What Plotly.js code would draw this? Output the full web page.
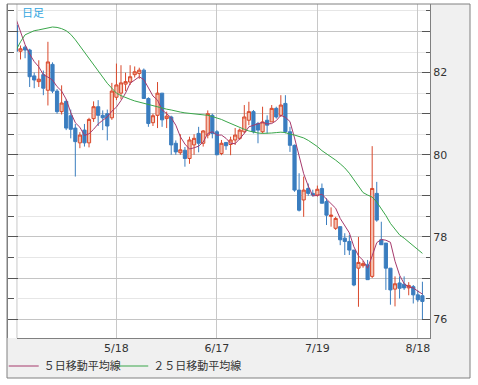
<!DOCTYPE html>
<html>
<head>
<meta charset="utf-8">
<script src="https://cdn.plot.ly/plotly-3.0.1.min.js"></script>
<style>html,body{margin:0;padding:0;background:#fff;}#chart{width:478px;height:385px;}</style>
</head>
<body>
<div id="chart"></div>
<script>
// Trading days (2011, weekdays)
var dates = ['4/18','4/19','4/20','4/21','4/22','4/25','4/26','4/27','4/28','4/29',
'5/2','5/3','5/4','5/5','5/6','5/9','5/10','5/11','5/12','5/13',
'5/16','5/17','5/18','5/19','5/20','5/23','5/24','5/25','5/26','5/27',
'5/30','5/31','6/1','6/2','6/3','6/6','6/7','6/8','6/9','6/10',
'6/13','6/14','6/15','6/16','6/17','6/20','6/21','6/22','6/23','6/24',
'6/27','6/28','6/29','6/30','7/1','7/4','7/5','7/6','7/7','7/8',
'7/11','7/12','7/13','7/14','7/15','7/18','7/19','7/20','7/21','7/22',
'7/25','7/26','7/27','7/28','7/29','8/1','8/2','8/3','8/4','8/5',
'8/8','8/9','8/10','8/11','8/12','8/15','8/16','8/17','8/18','8/19'];

var openP = [83.15,82.52,82.62,82.55,81.92,81.78,81.95,81.57,82.2,81.55,
81.05,81.3,80.95,80.65,80.29,80.6,80.29,80.88,81.17,80.96,
81.0,80.9,81.4,81.5,81.72,81.77,81.95,81.98,82.06,81.37,
80.78,80.96,81.5,80.88,80.92,80.28,80.05,80.11,79.91,80.24,
80.52,80.28,80.48,80.96,80.56,80.03,80.3,80.25,80.36,80.4,
80.56,80.84,81.05,80.76,80.56,80.84,80.8,81.13,80.96,81.25,
80.56,80.23,79.14,78.9,79.18,79.06,79.02,79.18,78.86,78.5,
78.21,78.25,77.97,77.89,77.68,77.24,77.3,77.32,77.04,79.06,
77.93,77.85,77.24,76.73,76.88,76.85,76.76,76.79,76.59,76.57];

var highP = [83.32,82.66,82.66,82.58,82.0,82.3,82.05,82.75,82.25,81.6,
81.69,81.35,81.1,80.75,80.55,80.75,80.9,81.3,81.33,81.08,
81.1,81.75,82.22,82.18,82.0,82.18,82.15,82.12,82.1,81.4,
81.0,81.77,81.5,81.05,80.95,80.35,80.5,80.19,80.44,80.5,
80.68,80.6,81.08,81.0,80.6,80.36,80.3,80.44,80.65,80.64,
81.21,81.29,81.09,80.8,81.17,80.96,81.21,81.17,81.45,81.45,
80.68,80.25,79.55,79.47,79.3,79.15,79.25,79.3,78.94,78.72,
78.49,78.25,78.09,78.05,77.68,78.0,77.42,77.44,80.21,79.34,
78.37,77.85,77.24,77.04,77.04,77.04,76.9,76.83,76.7,76.91];

var lowP = [82.22,82.32,82.35,81.65,81.62,81.65,81.45,81.2,81.5,81.0,
80.98,80.6,80.4,79.47,80.16,80.2,80.18,80.8,80.7,80.6,
80.35,80.85,81.33,81.35,81.55,81.7,81.88,81.85,81.37,80.68,
80.7,80.65,80.68,80.65,80.0,80.0,80.0,79.71,79.78,80.0,
80.06,80.2,80.4,80.4,79.99,79.99,80.12,79.99,80.24,80.36,
80.52,80.72,80.52,80.28,80.52,80.52,80.8,80.88,80.92,80.52,
80.07,79.1,78.62,78.49,79.0,78.98,78.98,78.82,78.29,78.25,
78.17,77.8,77.56,77.56,76.8,76.3,77.25,76.96,77.0,78.37,
77.81,76.71,76.35,76.31,76.5,76.71,76.58,76.38,76.42,75.98];

var closeP = [82.52,82.58,82.55,81.9,81.82,81.84,81.62,82.26,81.55,81.05,
81.26,80.65,80.62,80.32,80.48,80.29,80.86,81.17,80.96,80.9,
80.7,81.55,81.7,81.75,81.78,81.9,82.02,82.06,81.37,80.76,
80.95,81.5,80.85,80.94,80.24,80.07,80.12,79.91,80.36,80.4,
80.28,80.58,81.0,80.52,80.0,80.28,80.22,80.36,80.48,80.6,
80.92,81.05,80.56,80.6,80.8,80.72,81.13,80.92,81.21,80.56,
80.23,79.14,78.65,79.14,79.06,79.02,79.16,78.82,78.53,78.53,
78.45,77.93,77.89,77.68,76.83,77.38,77.35,76.96,79.18,78.41,
77.81,77.24,76.71,76.86,76.75,76.76,76.82,76.59,76.47,76.43];

var ma5 = [83.31,83.0,82.68,82.45,82.27,82.14,81.95,81.89,81.82,81.66,
81.55,81.35,81.03,80.78,80.67,80.47,80.51,80.62,80.75,80.84,
80.92,81.06,81.16,81.32,81.5,81.74,81.83,81.9,81.83,81.62,
81.43,81.33,81.09,81.0,80.9,80.72,80.44,80.26,80.14,80.17,
80.21,80.31,80.52,80.56,80.48,80.48,80.4,80.28,80.27,80.39,
80.52,80.68,80.72,80.75,80.79,80.75,80.76,80.83,80.96,80.91,
80.81,80.41,79.96,79.54,79.24,79.0,79.01,79.04,78.92,78.81,
78.7,78.45,78.27,78.1,77.76,77.54,77.43,77.24,77.54,77.86,
77.94,77.92,77.87,77.41,77.07,76.86,76.78,76.76,76.68,76.61];

var ma25 = [82.54,82.75,82.92,82.98,83.02,83.04,83.06,83.09,83.11,83.1,
83.07,83.02,82.93,82.8,82.65,82.48,82.33,82.17,82.02,81.88,
81.74,81.62,81.5,81.44,81.39,81.35,81.31,81.28,81.25,81.22,
81.19,81.16,81.13,81.11,81.09,81.06,81.04,81.02,81.01,81.0,
80.99,80.98,80.96,80.93,80.9,80.86,80.81,80.76,80.7,80.66,
80.62,80.58,80.55,80.53,80.52,80.52,80.53,80.54,80.55,80.54,
80.5,80.48,80.45,80.41,80.35,80.28,80.2,80.1,80.03,79.95,
79.87,79.78,79.68,79.55,79.4,79.25,79.08,79.02,78.97,78.85,
78.7,78.52,78.33,78.18,78.05,77.97,77.88,77.78,77.68,77.6];

var xTickVals = ['5/18','6/17','7/19','8/18'];
var yTickVals = [76,77,78,79,80,81,82,83];
var yTickText = ['76','','78','','80','','82',''];
var seriesNames = ['５日移動平均線','２５日移動平均線'];
var periodLabel = '日足';

var W = 478, H = 385;
var mL = 5, mR = 8, mT = 4, mB = 7;
var pw = W - mL - mR, ph = H - mT - mB;
var xd0 = (15 - mL) / pw, xd1 = (430 - mL) / pw;
var yd0 = (H - mB - 338) / ph;
var yRange = [75.54, 83.67];
var legY = (H - mB - 366) / ph;
var legFont = {family: 'Noto Sans CJK JP', size: 11, color: '#333333'};

var traces = [
  {
    type: 'candlestick', x: dates, open: openP, high: highP, low: lowP, close: closeP,
    increasing: {line: {color: '#d9482b', width: 1}, fillcolor: '#f5c3b3'},
    decreasing: {line: {color: '#3a7dbf', width: 1}, fillcolor: '#3a7dbf'},
    whiskerwidth: 0, showlegend: false, hoverinfo: 'skip'
  },
  {
    type: 'scatter', mode: 'lines', x: dates, y: ma5, name: seriesNames[0], legend: 'legend',
    line: {color: '#a63a6c', width: 1}, hoverinfo: 'skip'
  },
  {
    type: 'scatter', mode: 'lines', x: dates, y: ma25, name: seriesNames[1], legend: 'legend2',
    line: {color: '#3aa64a', width: 1}, hoverinfo: 'skip'
  },
  {
    type: 'scatter', mode: 'lines', x: [], y: [], yaxis: 'y2', showlegend: false, hoverinfo: 'skip'
  }
];

var layout = {
  width: W, height: H,
  margin: {l: mL, r: mR, t: mT, b: mB, pad: 0},
  paper_bgcolor: '#ffffff', plot_bgcolor: '#ffffff',
  boxgap: 0, boxgroupgap: 0.3,
  font: {family: 'DejaVu Sans', size: 11, color: '#333333'},
  xaxis: {
    type: 'category', domain: [xd0, xd1], range: [0.22, 90.7],
    tickmode: 'array', tickvals: xTickVals, ticks: '',
    showgrid: true, gridcolor: '#c8c8c8', gridwidth: 1,
    showline: true, linecolor: '#808080', linewidth: 1, mirror: false,
    rangeslider: {visible: false}, fixedrange: true, zeroline: false,
    tickfont: {family: 'DejaVu Sans', size: 11, color: '#333333'}
  },
  yaxis: {
    domain: [yd0, 1], range: yRange, side: 'right',
    tickmode: 'array', tickvals: yTickVals, ticktext: yTickText,
    ticks: 'inside', ticklen: 8, tickcolor: '#555555', tickwidth: 1,
    showgrid: true, gridcolor: '#c4c4c4', gridwidth: 1,
    minor: {dtick: 0.5, tick0: 0, ticks: 'inside', ticklen: 4, tickcolor: '#555555', showgrid: true, gridcolor: '#e6e6e6', gridwidth: 1},
    showline: true, linecolor: '#808080', linewidth: 1, zeroline: false, fixedrange: true,
    tickfont: {family: 'DejaVu Sans', size: 11, color: '#333333'}
  },
  yaxis2: {
    overlaying: 'y', anchor: 'free', position: 0, side: 'left', range: yRange,
    tickmode: 'array', tickvals: yTickVals, showticklabels: false,
    ticks: 'inside', ticklen: 10, tickcolor: '#555555', tickwidth: 1,
    minor: {dtick: 0.5, tick0: 0, ticks: 'inside', ticklen: 6, tickcolor: '#555555', showgrid: false},
    showgrid: false, showline: true, linecolor: '#808080', linewidth: 1, zeroline: false, fixedrange: true
  },
  showlegend: true,
  legend: {
    orientation: 'h', x: (1.7 - mL) / pw, xanchor: 'left', y: legY, yanchor: 'middle',
    bgcolor: 'rgba(0,0,0,0)', borderwidth: 0, font: legFont
  },
  legend2: {
    orientation: 'h', x: (111.7 - mL) / pw, xanchor: 'left', y: legY, yanchor: 'middle',
    bgcolor: 'rgba(0,0,0,0)', borderwidth: 0, font: legFont
  },
  shapes: [
    {type: 'rect', xref: 'paper', yref: 'paper', x0: xd1, x1: 1, y0: 0, y1: 1, fillcolor: '#f0f0f0', line: {width: 0}, layer: 'below'},
    {type: 'rect', xref: 'paper', yref: 'paper', x0: 0, x1: 1, y0: 0, y1: yd0, fillcolor: '#f0f0f0', line: {width: 0}, layer: 'below'},
    {type: 'line', xref: 'paper', yref: 'paper', x0: xd0, x1: xd0, y0: yd0, y1: 1, line: {color: '#c8c8c8', width: 1}, layer: 'below'},
    {type: 'rect', xref: 'paper', yref: 'paper', x0: 0, x1: 1, y0: 0, y1: 1, fillcolor: 'rgba(0,0,0,0)', line: {color: '#808080', width: 1}, layer: 'above'}
  ],
  annotations: [
    {text: periodLabel, xref: 'paper', yref: 'paper', x: (18 - mL) / pw, y: 1 - (12.5 - mT) / ph,
     xanchor: 'left', yanchor: 'middle', showarrow: false,
     font: {family: 'Noto Sans CJK JP', size: 11, color: '#33a6e0'}}
  ]
};

Plotly.newPlot('chart', traces, layout, {staticPlot: true, displayModeBar: false});
</script>
</body>
</html>
